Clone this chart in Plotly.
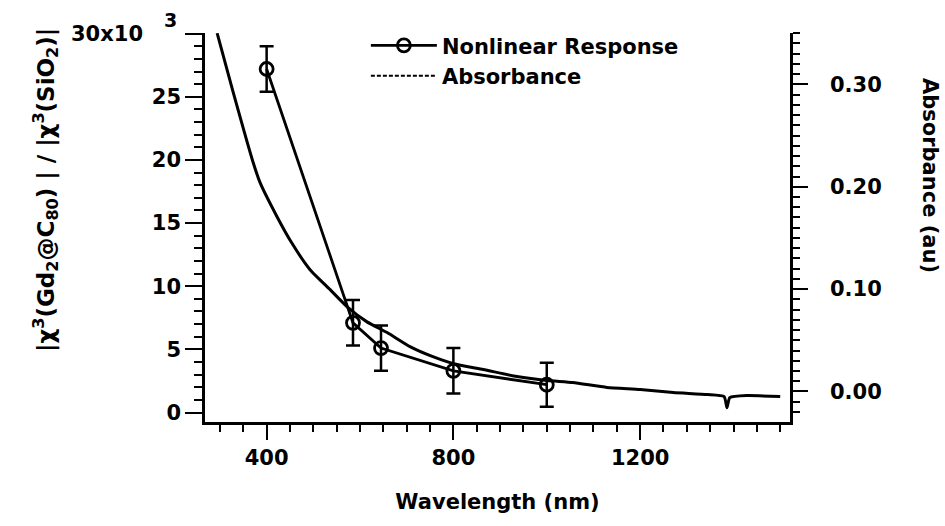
import plotly.graph_objects as go

# Nonlinear response (x10^3)
nl_wavelength = [400, 585, 645, 800, 1000]
nl_value = [27.2, 7.1, 5.1, 3.3, 2.2]
nl_error = [1.8, 1.8, 1.8, 1.8, 1.75]

# Absorbance spectrum (au)
abs_wavelength = [294, 328, 371, 386, 422, 454, 493, 536, 572, 615, 658, 707,
                  756, 808, 864, 936, 1001, 1056, 1129, 1200, 1271, 1344, 1380,
                  1386, 1392, 1429, 1500]
abs_value = [0.350, 0.293, 0.224, 0.204, 0.171, 0.145, 0.119, 0.0995, 0.083,
             0.068, 0.0576, 0.0439, 0.0341, 0.0263, 0.0215, 0.0146, 0.0107,
             0.0088, 0.004, 0.002, -0.001, -0.003, -0.005, -0.016, -0.006,
             -0.004, -0.005]

left_tickvals = [0, 5, 10, 15, 20, 25, 30]
left_ticktext = ["0", "5", "10", "15", "20", "25", ""]
top_label = "30x10"
top_exponent = "3"
right_tickvals = [0.0, 0.1, 0.2, 0.3]
right_ticktext = ["0.00", "0.10", "0.20", "0.30"]
x_tickvals = [400, 800, 1200]

FONT = "DejaVu Sans"
FS = 21
W = "bold"

def f(size=FS):
    return dict(family=FONT, size=size, color="black", weight=W)

fig = go.Figure()

fig.add_trace(go.Scatter(
    x=abs_wavelength, y=abs_value, yaxis="y2", mode="lines",
    line=dict(color="black", width=3, shape="spline", smoothing=0.5),
    showlegend=False, hoverinfo="skip"))

fig.add_trace(go.Scatter(
    x=nl_wavelength, y=nl_value, mode="lines+markers", name="Nonlinear Response",
    line=dict(color="black", width=2.8),
    marker=dict(symbol="circle-open", size=13, color="black", line=dict(width=2.8)),
    error_y=dict(type="data", array=nl_error, visible=True, color="black",
                 thickness=2.5, width=7)))

# legend entry for absorbance (dashed style as in legend)
fig.add_trace(go.Scatter(
    x=[None], y=[None], yaxis="y2", mode="lines", name="Absorbance",
    line=dict(color="black", width=2, dash="4px,2px")))

fig.update_layout(
    width=945, height=526,
    margin=dict(l=205, r=155, t=33, b=104),
    paper_bgcolor="white", plot_bgcolor="white",
    font=f(),
    showlegend=True,
    legend=dict(x=0.275, y=1.02, xanchor="left", yanchor="top",
                bgcolor="rgba(0,0,0,0)", font=f(),
                tracegroupgap=0, itemwidth=66),
    xaxis=dict(range=[268, 1521], showgrid=False, zeroline=False,
               showline=True, linecolor="black", linewidth=2.5,
               ticks="outside", ticklen=15, tickwidth=2, tickcolor="black",
               tickvals=x_tickvals,
               minor=dict(dtick=50, tick0=0, ticks="outside", ticklen=7, tickwidth=2, tickcolor="black"),
               title=dict(text="Wavelength (nm)", standoff=26, font=f()),
               tickfont=f()),
    yaxis=dict(range=[-0.75, 30.05], showgrid=False, zeroline=False,
               showline=True, linecolor="black", linewidth=2.5,
               ticks="outside", ticklen=17, tickwidth=2, tickcolor="black",
               tickvals=left_tickvals, ticktext=left_ticktext,
               minor=dict(dtick=1, tick0=0, ticks="outside", ticklen=8, tickwidth=2, tickcolor="black"),
               tickfont=f()),
    yaxis2=dict(range=[-0.0298, 0.3502], overlaying="y", side="right",
                showgrid=False, zeroline=False,
                showline=True, linecolor="black", linewidth=2.5,
                ticks="outside", ticklen=15, tickwidth=2, tickcolor="black",
                tickvals=right_tickvals, ticktext=right_ticktext,
                minor=dict(dtick=0.01, tick0=0, ticks="outside", ticklen=7, tickwidth=2, tickcolor="black"),
                ticklabelstandoff=18,
                tickfont=f()),
)

fig.add_annotation(xref="paper", yref="y", x=(145 - 205) / 585, y=30,
                   text=top_label, showarrow=False, font=f(),
                   xanchor="right", yanchor="middle")
fig.add_annotation(xref="paper", yref="paper", x=(170 - 205) / 585, y=(422 - 20) / 389,
                   text=top_exponent, showarrow=False, font=f(FS - 2),
                   xanchor="center", yanchor="middle")
fig.add_annotation(xref="paper", yref="paper", x=(45 - 205) / 585, y=(422 - 190) / 389,
                   text="|χ<sup>3</sup>(Gd<sub>2</sub>@C<sub>80</sub>) | / |χ<sup>3</sup>(SiO<sub>2</sub>)|",
                   textangle=-90, showarrow=False, font=f(23),
                   xanchor="center", yanchor="middle")
fig.add_annotation(xref="paper", yref="paper", x=(930 - 205) / 585, y=(422 - 175) / 389,
                   text="Absorbance (au)", textangle=90, showarrow=False, font=f(),
                   xanchor="center", yanchor="middle")

fig.write_html("out.html")
